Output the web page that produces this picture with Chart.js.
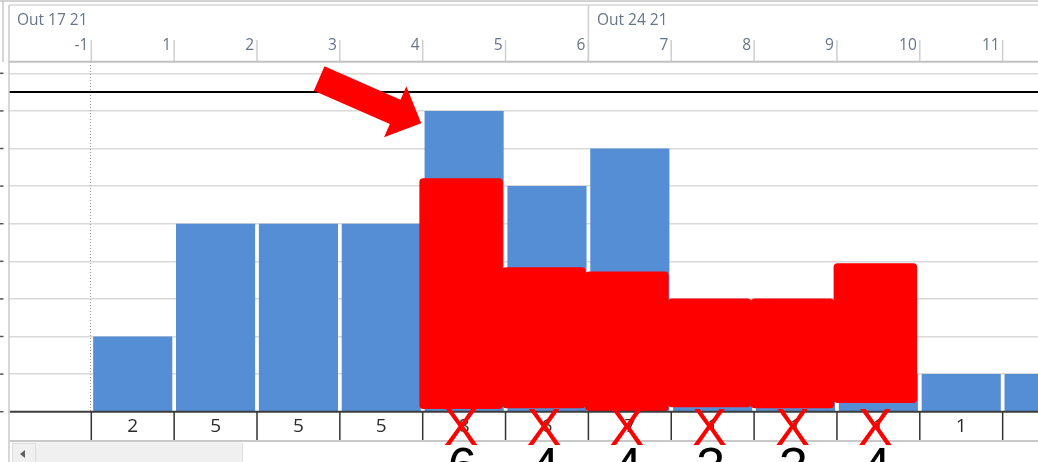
<!DOCTYPE html>
<html><head><meta charset="utf-8">
<script src="https://cdn.jsdelivr.net/npm/chart.js@4.4.1/dist/chart.umd.min.js"></script>
<style>
html,body{margin:0;padding:0;background:#fff;overflow:hidden;width:1038px;height:462px}
#wrap{position:absolute;left:0;top:0;width:1090px;height:462px}
canvas{display:block}
</style></head><body>
<div id="wrap"><canvas id="c" width="1090" height="462"></canvas></div>
<script>
// ---- data ----
const categories   = ["-1","1","2","3","4","5","6","7","8","9","10","11","12"];
const unitsValues  = [0, 2, 5, 5, 5, 8, 6, 7, 1, 1, 1, 1, 1];
const tableValues  = ["", "2","5","5","5","8","6","7","1","1","1","1",""];
const overlayLow   = [null,null,null,null,null,0.08,0.10,0.03,0.13,0.10,0.24,null,null];
const overlayHigh  = [null,null,null,null,null,6.20,3.83,3.72,3.00,3.00,3.94,null,null];
const correctedValues = [null,null,null,null,null,"6","4","4","3","3","4",null,null];
const crossedCells = [false,false,false,false,false,true,true,true,true,true,true,false,false];
const weekLabels   = ["Out 17 21","Out 24 21"];
const weekStartIdx = [0, 7];
const maxUnits = 8.5;
const peakIdx = 5;

const overlayData = overlayLow.map((l,i)=> l===null ? null : [l, overlayHigh[i]]);

const FONT = '"Open Sans", "Noto Sans", sans-serif';

const decor = {
  id:'decor',
  beforeDatasetsDraw(chart){
    const {ctx, scales:{x,y}, chartArea:a} = chart;
    const w = x.getPixelForValue(1)-x.getPixelForValue(0);
    const colLeft = i => x.getPixelForValue(i)-w/2;
    ctx.save();
    ctx.strokeStyle='#9a9a9a'; ctx.lineWidth=1; ctx.setLineDash([1,2]);
    ctx.beginPath(); ctx.moveTo(Math.round(colLeft(1))-0.5, 62); ctx.lineTo(Math.round(colLeft(1))-0.5, a.bottom); ctx.stroke();
    ctx.setLineDash([]);
    ctx.strokeStyle='#000'; ctx.lineWidth=2;
    const ym = y.getPixelForValue(maxUnits);
    ctx.beginPath(); ctx.moveTo(9, ym); ctx.lineTo(chart.width, ym); ctx.stroke();
    ctx.restore();
  },
  beforeDatasetDraw(chart, args){
    if(args.index===1){ chart.ctx.save(); chart.ctx.translate(-3,0); }
  },
  afterDatasetDraw(chart, args){
    if(args.index===1){ chart.ctx.restore(); }
  },
  afterDraw(chart){
    const {ctx, scales:{x,y}, chartArea:a} = chart;
    const W = chart.width;
    const w = x.getPixelForValue(1)-x.getPixelForValue(0);
    const colLeft = i => x.getPixelForValue(i)-w/2;
    const colMid = i => x.getPixelForValue(i);
    ctx.save();
    // ---- header ----
    ctx.fillStyle='#fff'; ctx.fillRect(0,0,W,61);
    ctx.strokeStyle='#c4c4c4'; ctx.lineWidth=1.5;
    ctx.beginPath(); ctx.moveTo(0,1); ctx.lineTo(W,1); ctx.stroke();
    ctx.strokeStyle='#d4d4d4';
    ctx.beginPath(); ctx.moveTo(9,5); ctx.lineTo(W,5); ctx.stroke();
    ctx.fillStyle='#66758a'; ctx.font='15.5px '+FONT; ctx.textBaseline='middle'; ctx.textAlign='left';
    weekLabels.forEach((t,k)=>{ ctx.fillText(t, colLeft(weekStartIdx[k])+8.5, 20.5); });
    ctx.strokeStyle='#cfcfcf'; ctx.lineWidth=1.5;
    weekStartIdx.forEach(i=>{ if(i>0){ const xx=colLeft(i); ctx.beginPath(); ctx.moveTo(xx,5); ctx.lineTo(xx,61); ctx.stroke(); }});
    ctx.textAlign='right';
    categories.forEach((c,i)=>{
      const xr = colLeft(i+1);
      ctx.beginPath(); ctx.moveTo(xr,40); ctx.lineTo(xr,61); ctx.stroke();
      ctx.fillText(c, xr-3, 46);
    });
    ctx.strokeStyle='#c2c2c2'; ctx.lineWidth=2;
    ctx.beginPath(); ctx.moveTo(9,61.7); ctx.lineTo(W,61.7); ctx.stroke();
    ctx.strokeStyle='#cacaca'; ctx.lineWidth=1.5;
    ctx.beginPath(); ctx.moveTo(3,0); ctx.lineTo(3,62); ctx.stroke();
    ctx.beginPath(); ctx.moveTo(9,5); ctx.lineTo(9,462); ctx.stroke();
    ctx.strokeStyle='#555'; ctx.lineWidth=1.5;
    for(let v=0; v<=9; v++){ const yy=y.getPixelForValue(v); ctx.beginPath(); ctx.moveTo(0,yy); ctx.lineTo(3.5,yy); ctx.stroke(); }
    // ---- table row ----
    const y0 = y.getPixelForValue(0);
    ctx.fillStyle='#fff'; ctx.fillRect(10, y0, W, 462-y0);
    ctx.strokeStyle='#3c3c3c'; ctx.lineWidth=2;
    ctx.beginPath(); ctx.moveTo(10,y0); ctx.lineTo(W,y0); ctx.stroke();
    ctx.strokeStyle='#333'; ctx.lineWidth=1.5;
    for(let i=1;i<categories.length;i++){ const xx=colLeft(i); ctx.beginPath(); ctx.moveTo(xx,y0); ctx.lineTo(xx,440); ctx.stroke(); }
    ctx.fillStyle='#2b2b2b'; ctx.font='19px '+FONT; ctx.textAlign='center'; ctx.textBaseline='middle';
    tableValues.forEach((t,i)=>{ if(t) ctx.fillText(t, colMid(i), 427); });
    ctx.strokeStyle='#c8c8c8'; ctx.lineWidth=2;
    ctx.beginPath(); ctx.moveTo(10,441); ctx.lineTo(W,441); ctx.stroke();
    ctx.fillStyle='#f0f0f0'; ctx.fillRect(12,442.5,230,20);
    ctx.strokeStyle='#dedede'; ctx.lineWidth=1;
    ctx.strokeRect(12.5,443.5,23,19);
    ctx.beginPath(); ctx.moveTo(242.5,443); ctx.lineTo(242.5,462); ctx.stroke();
    ctx.fillStyle='#606060';
    ctx.beginPath(); ctx.moveTo(20,454); ctx.lineTo(25,450); ctx.lineTo(25,458); ctx.closePath(); ctx.fill();
    // ---- red crosses ----
    ctx.fillStyle='#ff0000'; ctx.font='52px "Liberation Sans", Arial, sans-serif'; ctx.textBaseline='alphabetic';
    crossedCells.forEach((c,i)=>{ if(c) ctx.fillText('X', colMid(i)-3, 445); });
    // ---- corrected numbers ----
    ctx.fillStyle='#000'; ctx.font='52px "Liberation Sans", Arial, sans-serif';
    correctedValues.forEach((t,i)=>{ if(t) ctx.fillText(t, colMid(i)-2, 484); });
    // ---- arrow ----
    const T = [colLeft(peakIdx)-1.5, y.getPixelForValue(unitsValues[peakIdx])+12.3];
    const d = [0.916,0.401], n=[-0.401,0.916];
    const L=111.4, hl=28.4, sw=13.3, hw=27.8;
    const C0=[T[0]-L*d[0], T[1]-L*d[1]], B=[T[0]-hl*d[0], T[1]-hl*d[1]];
    const P=(p,s)=>[p[0]+s*n[0], p[1]+s*n[1]];
    const pts=[P(C0,-sw),P(B,-sw),P(B,-hw),T,P(B,hw),P(B,sw),P(C0,sw)];
    ctx.fillStyle='#ff0000'; ctx.beginPath();
    pts.forEach((p,k)=> k?ctx.lineTo(p[0],p[1]):ctx.moveTo(p[0],p[1]));
    ctx.closePath(); ctx.fill();
    ctx.restore();
  }
};

new Chart(document.getElementById('c'), {
  type:'bar',
  data:{ labels:categories, datasets:[
    { data:unitsValues, backgroundColor:'#558ed5', barPercentage:0.955, categoryPercentage:1, grouped:false, order:2 },
    { data:overlayData, backgroundColor:'#ff0000', borderRadius:4, borderSkipped:false, barPercentage:1.0, categoryPercentage:1, grouped:false, order:1 }
  ]},
  options:{
    responsive:false, animation:false, devicePixelRatio:1,
    layout:{ padding:{ left:8.45, right:4.5, top:73.3, bottom:50.3 } },
    plugins:{ legend:{display:false}, tooltip:{enabled:false} },
    scales:{
      x:{ display:false },
      y:{ min:0, max:9, ticks:{display:false, stepSize:1}, grid:{color:'#d9d9d9', lineWidth:1.5, drawTicks:false}, border:{display:false}, afterFit(s){ s.width=0; } }
    }
  },
  plugins:[decor]
});
</script>
</body></html>
